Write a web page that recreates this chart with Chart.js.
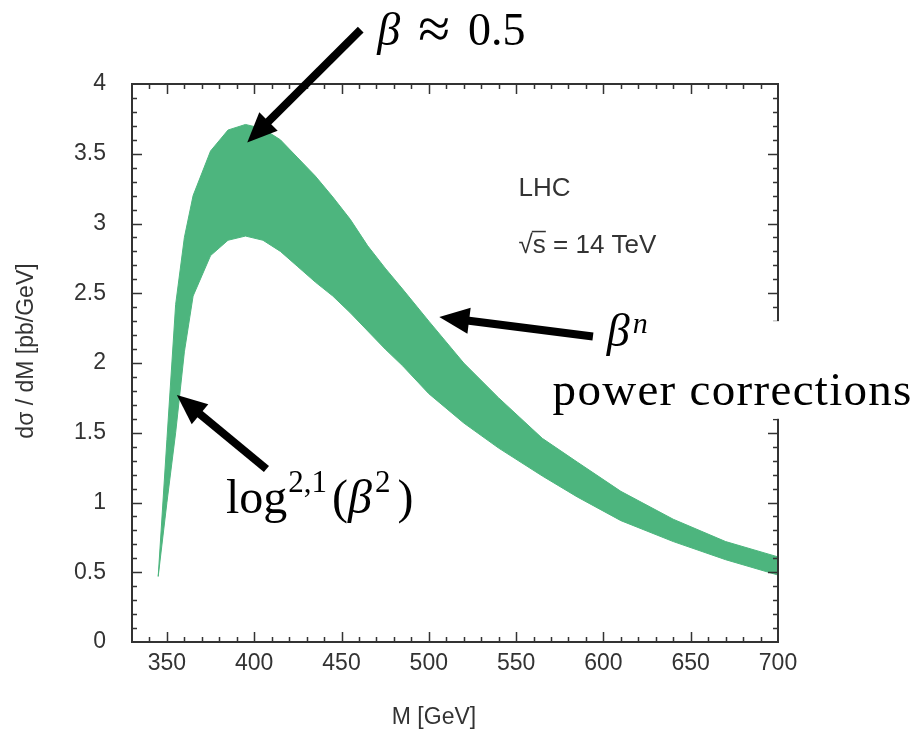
<!DOCTYPE html>
<html>
<head>
<meta charset="utf-8">
<script src="https://cdn.jsdelivr.net/npm/chart.js@4.4.1/dist/chart.umd.min.js"></script>
<style>
  body { margin: 0; background: #fff; }
  #wrap { width: 923px; height: 747px; }
</style>
</head>
<body>
<div id="wrap"><canvas id="grafico" width="923" height="747"></canvas></div>
<script>
// Masa invariante M [GeV] y bordes de la banda dσ/dM [pb/GeV]
const masa = [345, 350, 355, 360, 365, 375, 385, 395, 405, 415, 425, 435, 445, 455, 465, 475, 485, 500, 520, 540, 565, 585, 610, 640, 670, 700];
const bandaSup = [0.47, 1.45, 2.42, 2.90, 3.20, 3.52, 3.67, 3.71, 3.68, 3.60, 3.47, 3.34, 3.19, 3.03, 2.84, 2.68, 2.53, 2.30, 2.00, 1.75, 1.46, 1.29, 1.08, 0.88, 0.72, 0.61];
const bandaInf = [0.47, 1.00, 1.50, 2.08, 2.48, 2.77, 2.88, 2.91, 2.88, 2.80, 2.69, 2.58, 2.48, 2.36, 2.23, 2.10, 1.98, 1.78, 1.57, 1.39, 1.19, 1.04, 0.87, 0.72, 0.59, 0.48];

const VERDE = "#4db57e";
const GRIS = "#333";
const SANS = "'Liberation Sans', Arial, sans-serif";
const SERIF = "'Liberation Serif', 'Times New Roman', serif";

// Flechas: punta y cola en coordenadas de datos
const flechas = [
  { tail: { x: 461, y: 4.39 }, tip: { x: 396, y: 3.58 } },
  { tail: { x: 594, y: 2.19 }, tip: { x: 506, y: 2.33 } },
  { tail: { x: 407, y: 1.24 }, tip: { x: 355.7, y: 1.77 } }
];

function puntos(ys) {
  return masa.map((m, i) => ({ x: m, y: ys[i] }));
}

// Dibuja una secuencia de trozos de texto (para superíndices)
function texto(ctx, x, y, trozos) {
  trozos.forEach(t => {
    ctx.font = t.font;
    ctx.letterSpacing = t.ls || "0px";
    ctx.fillText(t.t, x, y + (t.dy || 0));
    x += ctx.measureText(t.t).width + (t.gap || 0);
  });
  ctx.letterSpacing = "0px";
}

const decor = {
  id: "decor",
  afterDraw(chart) {
    const { ctx, chartArea: a, scales: { x, y } } = chart;
    ctx.save();

    // marco
    ctx.strokeStyle = GRIS;
    ctx.lineWidth = 2;
    ctx.strokeRect(a.left, a.top, a.right - a.left, a.bottom - a.top);

    // marcas hacia dentro en los cuatro lados
    ctx.lineWidth = 1.5;
    ctx.beginPath();
    x.ticks.forEach(t => {
      if (t.value <= x.min || t.value >= x.max) return;
      const px = Math.round(x.getPixelForValue(t.value)) + 0.5;
      const L = t.value % 50 === 0 ? 10 : 5;
      ctx.moveTo(px, a.bottom); ctx.lineTo(px, a.bottom - L);
      ctx.moveTo(px, a.top); ctx.lineTo(px, a.top + L);
    });
    y.ticks.forEach(t => {
      if (t.value <= y.min || t.value >= y.max) return;
      const py = Math.round(y.getPixelForValue(t.value)) + 0.5;
      const L = Math.round(t.value * 10) % 5 === 0 ? 10 : 5;
      ctx.moveTo(a.left, py); ctx.lineTo(a.left + L, py);
      ctx.moveTo(a.right, py); ctx.lineTo(a.right - L, py);
    });
    ctx.stroke();

    // caja blanca detrás de "power corrections"
    ctx.fillStyle = "#fff";
    const y0 = y.getPixelForValue(2.30), y1 = y.getPixelForValue(1.6);
    ctx.fillRect(a.right - 14, y0, 20, y1 - y0);

    // títulos de ejes
    ctx.fillStyle = GRIS;
    ctx.font = "23px " + SANS;
    ctx.textAlign = "center";
    ctx.textBaseline = "middle";
    ctx.fillText("M [GeV]", 434, 718);
    ctx.save();
    ctx.translate(27, 351);
    ctx.rotate(-Math.PI / 2);
    ctx.fillText("dσ / dM [pb/GeV]", 0, 0);
    ctx.restore();

    // etiquetas LHC
    ctx.textAlign = "left";
    ctx.textBaseline = "alphabetic";
    ctx.font = "26px " + SANS;
    const lx = x.getPixelForValue(551.4);
    ctx.fillText("LHC", lx, y.getPixelForValue(3.2));
    const sy = y.getPixelForValue(2.79);
    ctx.fillText("√s = 14 TeV", lx, sy);
    const wr = ctx.measureText("√").width, ws = ctx.measureText("s").width;
    ctx.fillRect(lx + wr - 1, sy - 22, ws + 1, 1.5);

    // flechas
    ctx.fillStyle = "#000";
    ctx.strokeStyle = "#000";
    flechas.forEach(f => {
      const x0 = x.getPixelForValue(f.tail.x), y0 = y.getPixelForValue(f.tail.y);
      const x1 = x.getPixelForValue(f.tip.x), y1 = y.getPixelForValue(f.tip.y);
      const ang = Math.atan2(y1 - y0, x1 - x0);
      const H = 30, W = 13;
      const bx = x1 - H * Math.cos(ang), by = y1 - H * Math.sin(ang);
      ctx.lineWidth = 8;
      ctx.beginPath();
      ctx.moveTo(x0, y0);
      ctx.lineTo(bx + 2 * Math.cos(ang), by + 2 * Math.sin(ang));
      ctx.stroke();
      ctx.beginPath();
      ctx.moveTo(x1, y1);
      ctx.lineTo(bx + W * Math.sin(ang), by - W * Math.cos(ang));
      ctx.lineTo(bx - W * Math.sin(ang), by + W * Math.cos(ang));
      ctx.closePath();
      ctx.fill();
    });

    // anotaciones
    const big = "46px " + SERIF, bigI = "italic 46px " + SERIF;
    const log = "48px " + SERIF, logI = "italic 48px " + SERIF;
    const small = "31px " + SERIF, smallI = "italic 30px " + SERIF;
    texto(ctx, x.getPixelForValue(470.5), y.getPixelForValue(4.28), [
      { t: "β", font: bigI, gap: 18 }, { t: "≈", font: "58px " + SERIF, dy: 3, gap: 18 }, { t: "0.5", font: big }
    ]);
    texto(ctx, x.getPixelForValue(601.9), y.getPixelForValue(2.12), [
      { t: "β", font: bigI, gap: 3 }, { t: "n", font: smallI, dy: -13 }
    ]);
    texto(ctx, x.getPixelForValue(570.9), y.getPixelForValue(1.70), [
      { t: "power corrections", font: "47px " + SERIF, ls: "1.3px" }
    ]);
    texto(ctx, x.getPixelForValue(383.8), y.getPixelForValue(0.925), [
      { t: "log", font: log, gap: 1 }, { t: "2,1", font: small, dy: -21, gap: 5 },
      { t: "(", font: log }, { t: "β", font: logI, gap: 3 },
      { t: "2", font: small, dy: -21, gap: 7 }, { t: ")", font: log }
    ]);

    ctx.restore();
  }
};

const ctx = document.getElementById("grafico").getContext("2d");
const chart = new Chart(ctx, {
  type: "line",
  data: {
    datasets: [
      { label: "inf", data: puntos(bandaInf), borderColor: VERDE, borderWidth: 1, pointRadius: 0, tension: 0, fill: false },
      { label: "sup", data: puntos(bandaSup), borderColor: VERDE, borderWidth: 1, pointRadius: 0, tension: 0,
        fill: "-1", backgroundColor: VERDE }
    ]
  },
  options: {
    responsive: false,
    animation: false,
    devicePixelRatio: 1,
    layout: { padding: { top: 84, right: 145, left: 0, bottom: 0 } },
    plugins: { legend: { display: false }, tooltip: { enabled: false } },
    scales: {
      x: {
        type: "linear", min: 330, max: 700,
        grid: { display: false, drawTicks: false },
        border: { display: false },
        afterFit: s => { s.height = 105; },
        ticks: {
          stepSize: 10, autoSkip: false, maxRotation: 0, padding: 8,
          color: GRIS, font: { family: SANS, size: 23 },
          callback: v => (v % 50 === 0 ? String(v) : "")
        }
      },
      y: {
        min: 0, max: 4,
        grid: { display: false, drawTicks: false },
        border: { display: false },
        afterFit: s => { s.width = 132; },
        ticks: {
          stepSize: 0.1, autoSkip: false, padding: 26,
          color: GRIS, font: { family: SANS, size: 23 },
          callback: v => {
            const k = Math.round(v * 10);
            return k % 5 === 0 ? String(k / 10) : "";
          }
        }
      }
    }
  },
  plugins: [decor]
});
</script>
</body>
</html>
